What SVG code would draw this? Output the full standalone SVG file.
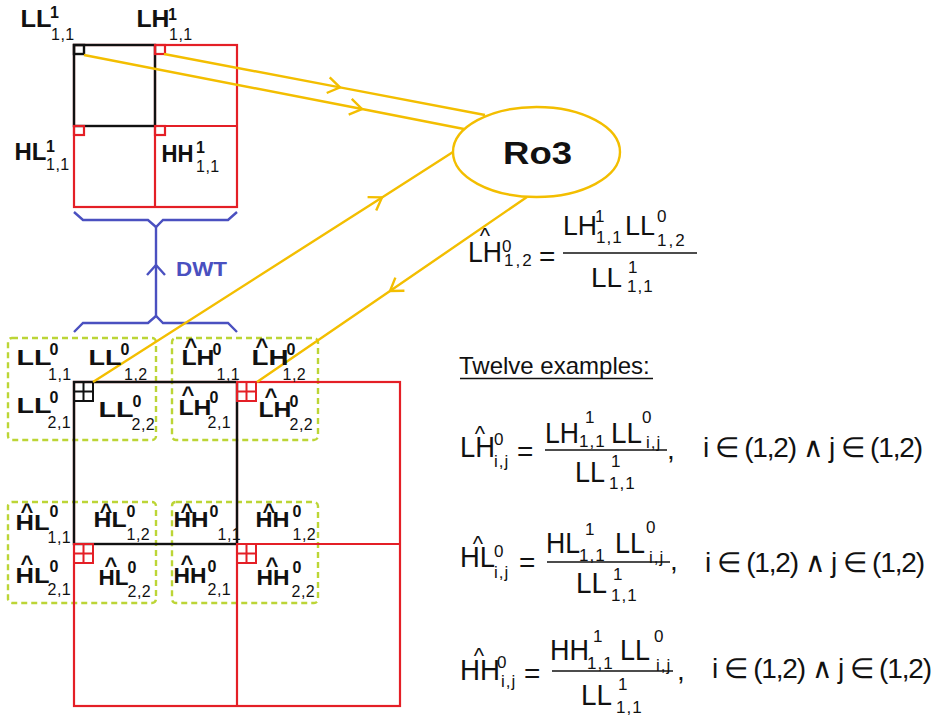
<svg xmlns="http://www.w3.org/2000/svg" xmlns:xlink="http://www.w3.org/1999/xlink" width="938" height="717" viewBox="0 0 938 717">
  <style>
    .red { fill: none; stroke: #e41f26; stroke-width: 2.2; }
    .blk { fill: none; stroke: #111; stroke-width: 2.4; }
    .dash { fill: none; stroke: #bcd536; stroke-width: 2.4; stroke-dasharray: 6 4; }
    .yl { fill: none; stroke: #f3be00; stroke-width: 2.4; }
    .bl { fill: none; stroke: #4a50c0; stroke-width: 2.4; }
    text { font-family: "Liberation Sans", Arial, sans-serif; fill: #111; }
    .lb { font-weight: bold; font-size: 22px; }
    .lbt { font-weight: bold; font-size: 23px; }
    .lsup { font-weight: bold; font-size: 16px; }
    .lsub { font-weight: normal; font-size: 16px; letter-spacing: 0.5px; }
    .hat { font-weight: bold; font-size: 22px; }
    .m { font-size: 28px; }
    .mb { font-size: 30px; }
    .ms { font-size: 17px; letter-spacing: 1px; }
    .mh { font-size: 22px; letter-spacing: 0; }
    .bar { stroke: #111; stroke-width: 1.4; }
  </style>
  <defs>
    <g id="grid">
      <rect x="0" y="0" width="19" height="19"/>
      <path d="M9.5,0V19M0,9.5H19"/>
    </g>
    <marker id="ay" viewBox="-14 -10 16 20" refX="0" refY="0" markerWidth="16" markerHeight="20" markerUnits="userSpaceOnUse" orient="auto">
      <path d="M-12,-8 L0,0 L-12,8" fill="none" stroke="#f3be00" stroke-width="2.4"/>
    </marker>
    <marker id="ab" viewBox="-12 -11 14 22" refX="0" refY="0" markerWidth="14" markerHeight="22" markerUnits="userSpaceOnUse" orient="auto">
      <path d="M-10,-9 L0,0 L-10,9" fill="none" stroke="#4a50c0" stroke-width="2.4"/>
    </marker>
  </defs>

  <rect x="0" y="0" width="938" height="717" fill="#fff"/>

  <!-- level 1 sub-bands -->
  <g id="level1">
    <rect class="red" x="74" y="45" width="163" height="162"/>
    <path class="red" d="M155,45V207M74,126H237"/>
    <rect class="blk" x="74" y="45" width="81" height="81"/>
    <rect class="blk" x="74" y="45" width="10" height="9" stroke-width="2"/>
    <rect class="red" x="155" y="45" width="10" height="9" stroke-width="2"/>
    <rect class="red" x="74" y="126" width="10" height="9" stroke-width="2"/>
    <rect class="red" x="155" y="126" width="10" height="9" stroke-width="2"/>
    <text class="lbt" x="20.5" y="27"><tspan textLength="31" lengthAdjust="spacingAndGlyphs">LL</tspan><tspan class="lsup" x="50" y="18">1</tspan><tspan class="lsub" x="51" y="40">1,1</tspan></text>
    <text class="lbt" x="136.5" y="27"><tspan textLength="33" lengthAdjust="spacingAndGlyphs">LH</tspan><tspan class="lsup" x="168" y="20">1</tspan><tspan class="lsub" x="169" y="40">1,1</tspan></text>
    <text class="lbt" x="14.5" y="160"><tspan textLength="32" lengthAdjust="spacingAndGlyphs">HL</tspan><tspan class="lsup" x="46" y="152">1</tspan><tspan class="lsub" x="46" y="170">1,1</tspan></text>
    <text class="lbt" x="161.5" y="162"><tspan textLength="32" lengthAdjust="spacingAndGlyphs">HH</tspan><tspan class="lsup" x="196" y="153">1</tspan><tspan class="lsub" x="196" y="172">1,1</tspan></text>
  </g>

  <!-- DWT brace -->
  <g id="dwt">
    <path class="bl" d="M74,212 L83,220 L148,220 L156,227 L163,220 L228,220 L237,212"/>
    <path class="bl" d="M74,332 L83,323 L148,323 L156,316 L163,323 L228,323 L237,332"/>
    <polyline class="bl" points="156,316 156,265 156,227" marker-mid="url(#ab)"/>
    <text x="176" y="276" font-weight="bold" font-size="21" style="fill:#4a50c0" textLength="51" lengthAdjust="spacingAndGlyphs">DWT</text>
  </g>

  <!-- level 0 coefficient groups -->
  <g id="box-ll0">
    <rect class="dash" x="8" y="338" width="148" height="102" rx="4"/>
  </g>
  <g id="box-lh0">
    <rect class="dash" x="172" y="338" width="146" height="102" rx="4"/>
  </g>
  <g id="box-hl0">
    <rect class="dash" x="8" y="502" width="148" height="101" rx="4"/>
  </g>
  <g id="box-hh0">
    <rect class="dash" x="172" y="502" width="146" height="101" rx="4"/>
  </g>

  <!-- level 0 block -->
  <g id="level0">
    <rect class="red" x="74" y="382" width="326" height="324"/>
    <path class="red" d="M237,382V706M74,544H400"/>
    <rect class="blk" x="74" y="382" width="163" height="162"/>
    <use xlink:href="#grid" x="74" y="382" fill="none" stroke="#111" stroke-width="2"/>
    <use xlink:href="#grid" x="237" y="382" fill="none" stroke="#e41f26" stroke-width="2"/>
    <use xlink:href="#grid" x="74" y="544" fill="none" stroke="#e41f26" stroke-width="2"/>
    <use xlink:href="#grid" x="237" y="544" fill="none" stroke="#e41f26" stroke-width="2"/>
  </g>

  <!-- Ro3 connectors -->
  <g id="connectors">
    <polyline class="yl" points="164,54 340,87.4 485,115" marker-mid="url(#ay)"/>
    <polyline class="yl" points="84,55 362,109 464,129" marker-mid="url(#ay)"/>
    <polyline class="yl" points="93,382 382,197.4 453,152" marker-mid="url(#ay)"/>
    <polyline class="yl" points="527,197 390,291 257,382" marker-mid="url(#ay)"/>
  </g>

  <g id="ro3">
    <ellipse cx="536.5" cy="152" rx="83.5" ry="45" fill="#fff" stroke="#f3be00" stroke-width="2.4"/>
    <text x="503" y="164" font-weight="bold" font-size="32" textLength="69" lengthAdjust="spacingAndGlyphs">Ro3</text>
  </g>

  <!-- level 0 labels -->
  <g id="labels-ll0">
    <text class="lb" x="16.5" y="365"><tspan textLength="35" lengthAdjust="spacingAndGlyphs">LL</tspan><tspan class="lsup" x="49.5" y="355">0</tspan><tspan class="lsub" x="48" y="380">1,1</tspan></text>
    <text class="lb" x="88.5" y="365"><tspan textLength="33" lengthAdjust="spacingAndGlyphs">LL</tspan><tspan class="lsup" x="120.5" y="355">0</tspan><tspan class="lsub" x="124" y="380">1,2</tspan></text>
    <text class="lb" x="16.5" y="413"><tspan textLength="35" lengthAdjust="spacingAndGlyphs">LL</tspan><tspan class="lsup" x="49.5" y="403">0</tspan><tspan class="lsub" x="47.5" y="428">2,1</tspan></text>
    <text class="lb" x="98.5" y="417"><tspan textLength="35" lengthAdjust="spacingAndGlyphs">LL</tspan><tspan class="lsup" x="132.5" y="407">0</tspan><tspan class="lsub" x="131.5" y="430">2,2</tspan></text>
  </g>
  <g id="labels-lh0">
    <text class="lb" x="181.5" y="365"><tspan textLength="33" lengthAdjust="spacingAndGlyphs">LH</tspan><tspan class="hat" x="184.6" y="354">^</tspan><tspan class="lsup" x="212.5" y="355">0</tspan><tspan class="lsub" x="216.5" y="380">1,1</tspan></text>
    <text class="lb" x="251.5" y="365"><tspan textLength="37" lengthAdjust="spacingAndGlyphs">LH</tspan><tspan class="hat" x="255.6" y="354">^</tspan><tspan class="lsup" x="286.5" y="355">0</tspan><tspan class="lsub" x="282.5" y="380">1,2</tspan></text>
    <text class="lb" x="178.5" y="415"><tspan textLength="33" lengthAdjust="spacingAndGlyphs">LH</tspan><tspan class="hat" x="181.6" y="402">^</tspan><tspan class="lsup" x="209.5" y="403">0</tspan><tspan class="lsub" x="207.5" y="428">2,1</tspan></text>
    <text class="lb" x="258.5" y="417"><tspan textLength="33" lengthAdjust="spacingAndGlyphs">LH</tspan><tspan class="hat" x="264.6" y="404">^</tspan><tspan class="lsup" x="289.5" y="407">0</tspan><tspan class="lsub" x="289.5" y="430">2,2</tspan></text>
  </g>
  <g id="labels-hl0">
    <text class="lb" x="15.5" y="530"><tspan textLength="34" lengthAdjust="spacingAndGlyphs">HL</tspan><tspan class="hat" x="20.6" y="519">^</tspan><tspan class="lsup" x="49.5" y="517">0</tspan><tspan class="lsub" x="47.5" y="543">1,1</tspan></text>
    <text class="lb" x="93.5" y="527"><tspan textLength="33" lengthAdjust="spacingAndGlyphs">HL</tspan><tspan class="hat" x="99.6" y="519">^</tspan><tspan class="lsup" x="126.5" y="517">0</tspan><tspan class="lsub" x="126.5" y="540">1,2</tspan></text>
    <text class="lb" x="15.5" y="583"><tspan textLength="34" lengthAdjust="spacingAndGlyphs">HL</tspan><tspan class="hat" x="20.6" y="571">^</tspan><tspan class="lsup" x="49.5" y="572">0</tspan><tspan class="lsub" x="47.5" y="595">2,1</tspan></text>
    <text class="lb" x="98.5" y="585"><tspan textLength="30" lengthAdjust="spacingAndGlyphs">HL</tspan><tspan class="hat" x="104.6" y="573">^</tspan><tspan class="lsup" x="127.5" y="573">0</tspan><tspan class="lsub" x="127.5" y="597">2,2</tspan></text>
  </g>
  <g id="labels-hh0">
    <text class="lb" x="173.5" y="527"><tspan textLength="35" lengthAdjust="spacingAndGlyphs">HH</tspan><tspan class="hat" x="180.6" y="519">^</tspan><tspan class="lsup" x="209.5" y="517">0</tspan><tspan class="lsub" x="217.5" y="540">1,1</tspan></text>
    <text class="lb" x="255.5" y="527"><tspan textLength="34" lengthAdjust="spacingAndGlyphs">HH</tspan><tspan class="hat" x="262.6" y="519">^</tspan><tspan class="lsup" x="292.5" y="517">0</tspan><tspan class="lsub" x="292.5" y="540">1,2</tspan></text>
    <text class="lb" x="173.5" y="583"><tspan textLength="33" lengthAdjust="spacingAndGlyphs">HH</tspan><tspan class="hat" x="180.6" y="571">^</tspan><tspan class="lsup" x="207.5" y="572">0</tspan><tspan class="lsub" x="207.5" y="595">2,1</tspan></text>
    <text class="lb" x="256.5" y="585"><tspan textLength="33" lengthAdjust="spacingAndGlyphs">HH</tspan><tspan class="hat" x="265.6" y="573">^</tspan><tspan class="lsup" x="292.5" y="573">0</tspan><tspan class="lsub" x="291.5" y="597">2,2</tspan></text>
  </g>

  <!-- prediction of LH(1,2) -->
  <g id="eq-lh12">
    <text class="mb" x="468" y="262"><tspan textLength="34" lengthAdjust="spacingAndGlyphs">LH</tspan><tspan class="mh" x="479.8" y="243">^</tspan><tspan class="ms" x="502" y="252">0</tspan><tspan class="ms" x="504" y="266" style="letter-spacing:2px">1,2</tspan></text>
    <text class="m" x="539" y="266">=</text>
    <line class="bar" x1="563" y1="253" x2="697" y2="253"/>
    <text class="m" x="563" y="235"><tspan textLength="34" lengthAdjust="spacingAndGlyphs">LH</tspan><tspan class="ms" x="595" y="222">1</tspan><tspan class="ms" x="596" y="243">1,1</tspan></text>
    <text class="m" x="625" y="235"><tspan textLength="30" lengthAdjust="spacingAndGlyphs">LL</tspan><tspan class="ms" x="657" y="222">0</tspan><tspan class="ms" x="657" y="246" style="letter-spacing:2px">1,2</tspan></text>
    <text class="m" x="591" y="287"><tspan textLength="31" lengthAdjust="spacingAndGlyphs">LL</tspan><tspan class="ms" x="628" y="273">1</tspan><tspan class="ms" x="627" y="292">1,1</tspan></text>
  </g>

  <g id="examples">
    <text x="459" y="374" font-size="24">Twelve examples:</text>
    <line x1="460" y1="378.5" x2="653" y2="378.5" stroke="#111" stroke-width="1.5"/>
  </g>

  <!-- LH rule -->
  <g id="eq-lh">
    <text class="mb" x="460" y="457"><tspan textLength="35" lengthAdjust="spacingAndGlyphs">LH</tspan><tspan class="mh" x="474.8" y="441">^</tspan><tspan class="ms" x="494" y="445">0</tspan><tspan class="ms" x="494" y="467">i,j</tspan></text>
    <text class="m" x="517" y="461">=</text>
    <line class="bar" x1="545" y1="450" x2="667" y2="450"/>
    <text class="mb" x="545" y="443"><tspan textLength="34" lengthAdjust="spacingAndGlyphs">LH</tspan><tspan class="ms" x="585" y="423">1</tspan><tspan class="ms" x="579" y="447">1,1</tspan></text>
    <text class="mb" x="611" y="443"><tspan textLength="31" lengthAdjust="spacingAndGlyphs">LL</tspan><tspan class="ms" x="642" y="423">0</tspan><tspan class="ms" x="646" y="448">i,j</tspan></text>
    <text class="mb" x="575" y="482"><tspan textLength="30" lengthAdjust="spacingAndGlyphs">LL</tspan><tspan class="ms" x="611" y="467">1</tspan><tspan class="ms" x="609" y="489">1,1</tspan></text>
    <text class="m" x="667" y="459">,</text>
    <text class="m" x="703" y="457" font-size="27" textLength="220" lengthAdjust="spacing">i ∈ (1,2) ∧ j ∈ (1,2)</text>
  </g>

  <!-- HL rule -->
  <g id="eq-hl">
    <text class="mb" x="460" y="567"><tspan textLength="35" lengthAdjust="spacingAndGlyphs">HL</tspan><tspan class="mh" x="472.8" y="551">^</tspan><tspan class="ms" x="494" y="557">0</tspan><tspan class="ms" x="494" y="578">i,j</tspan></text>
    <text class="m" x="519" y="572">=</text>
    <line class="bar" x1="547" y1="562" x2="670" y2="562"/>
    <text class="mb" x="546" y="553"><tspan textLength="34" lengthAdjust="spacingAndGlyphs">HL</tspan><tspan class="ms" x="585" y="535">1</tspan><tspan class="ms" x="579" y="561">1,1</tspan></text>
    <text class="mb" x="615" y="553"><tspan textLength="30" lengthAdjust="spacingAndGlyphs">LL</tspan><tspan class="ms" x="646" y="533">0</tspan><tspan class="ms" x="649" y="563">i,j</tspan></text>
    <text class="mb" x="576" y="593"><tspan textLength="31" lengthAdjust="spacingAndGlyphs">LL</tspan><tspan class="ms" x="613" y="580">1</tspan><tspan class="ms" x="611" y="601">1,1</tspan></text>
    <text class="m" x="670" y="570">,</text>
    <text class="m" x="705" y="572" font-size="27" textLength="220" lengthAdjust="spacing">i ∈ (1,2) ∧ j ∈ (1,2)</text>
  </g>

  <!-- HH rule -->
  <g id="eq-hh">
    <text class="mb" x="460" y="680"><tspan textLength="40" lengthAdjust="spacingAndGlyphs">HH</tspan><tspan class="mh" x="473.8" y="663">^</tspan><tspan class="ms" x="497" y="668">0</tspan><tspan class="ms" x="501" y="687">i,j</tspan></text>
    <text class="m" x="524" y="683">=</text>
    <line class="bar" x1="552" y1="671" x2="673" y2="671"/>
    <text class="mb" x="550" y="660"><tspan textLength="39" lengthAdjust="spacingAndGlyphs">HH</tspan><tspan class="ms" x="593" y="642">1</tspan><tspan class="ms" x="587" y="669">1,1</tspan></text>
    <text class="mb" x="620" y="660"><tspan textLength="30" lengthAdjust="spacingAndGlyphs">LL</tspan><tspan class="ms" x="654" y="642">0</tspan><tspan class="ms" x="656" y="671">i,j</tspan></text>
    <text class="mb" x="581" y="705"><tspan textLength="31" lengthAdjust="spacingAndGlyphs">LL</tspan><tspan class="ms" x="618" y="690">1</tspan><tspan class="ms" x="616" y="713">1,1</tspan></text>
    <text class="m" x="677" y="680">,</text>
    <text class="m" x="712" y="678" font-size="27" textLength="220" lengthAdjust="spacing">i ∈ (1,2) ∧ j ∈ (1,2)</text>
  </g>
</svg>
